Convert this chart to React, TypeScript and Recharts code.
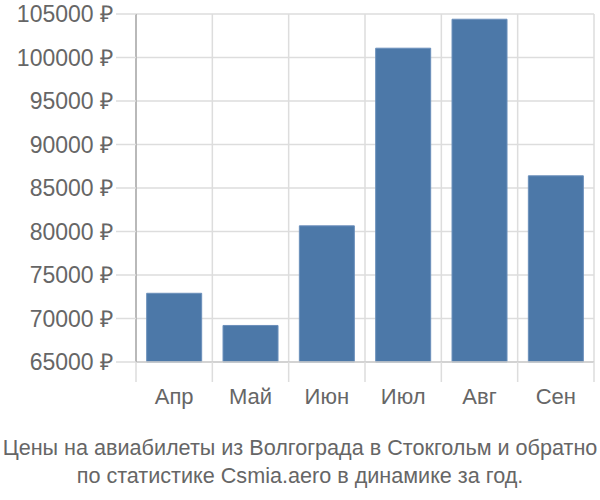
import { BarChart, Bar, XAxis, YAxis, CartesianGrid } from "recharts";

const months = ["Апр", "Май", "Июн", "Июл", "Авг", "Сен"];
const prices = [72900, 69200, 80650, 101070, 104400, 86400];
const yTicks = [65000, 70000, 75000, 80000, 85000, 90000, 95000, 100000, 105000];
const gridTicks = [0, 1, 2, 3, 4, 5, 6];

const titleLines = [
    "Цены на авиабилеты из Волгограда в Стокгольм и обратно",
    "по статистике Csmia.aero в динамике за год.",
];

const data = months.map((m, i) => ({ month: m, price: prices[i], pos: i + 0.5 }));

const font = "'Liberation Sans', Arial, sans-serif";

export default function App() {
    return (
        <div style={{ position: "absolute", left: 0, top: 0, width: 600, height: 500, fontFamily: font }}>
            <BarChart
                width={600}
                height={420}
                data={data}
                margin={{ top: 14, right: 6, bottom: 18, left: 0 }}
                barCategoryGap="14%"
            >
                <CartesianGrid stroke="#dddddd" strokeWidth={1.5} />
                {/* numeric axis only used for the category boundary lines */}
                <XAxis
                    xAxisId={0}
                    type="number"
                    dataKey="pos"
                    domain={[0, 6]}
                    ticks={gridTicks}
                    interval={0}
                    height={20}
                    tick={{ fontSize: 1, fill: "none" }}
                    tickFormatter={() => ""}
                    tickSize={20}
                    tickLine={{ stroke: "#dddddd", strokeWidth: 1.5 }}
                    axisLine={{ stroke: "#cccccc", strokeWidth: 1.5 }}
                />
                <XAxis
                    xAxisId="cat"
                    dataKey="month"
                    height={20}
                    tickLine={false}
                    axisLine={false}
                    tickSize={0}
                    tickMargin={6}
                    tick={{ fill: "#666666", fontSize: 22, fontFamily: font }}
                />
                <YAxis
                    width={136}
                    domain={[65000, 105000]}
                    ticks={yTicks}
                    interval={0}
                    tickFormatter={(v: number) => `${v} ₽`}
                    tickSize={20}
                    tickMargin={3}
                    tickLine={{ stroke: "#dddddd", strokeWidth: 1.5 }}
                    axisLine={{ stroke: "#aaaaaa", strokeWidth: 1.5 }}
                    tick={{ fill: "#666666", fontSize: 23, fontFamily: font }}
                />
                <Bar xAxisId="cat" dataKey="price" fill="#4c78a8" stroke="#6b8fbb" strokeWidth={1} isAnimationActive={false} />
            </BarChart>
            <div style={{ textAlign: "center", color: "#666666", fontSize: 21.6, lineHeight: "28px", marginTop: 14, whiteSpace: "nowrap" }}>
                {titleLines.map((t) => (
                    <div key={t}>{t}</div>
                ))}
            </div>
        </div>
    );
}
